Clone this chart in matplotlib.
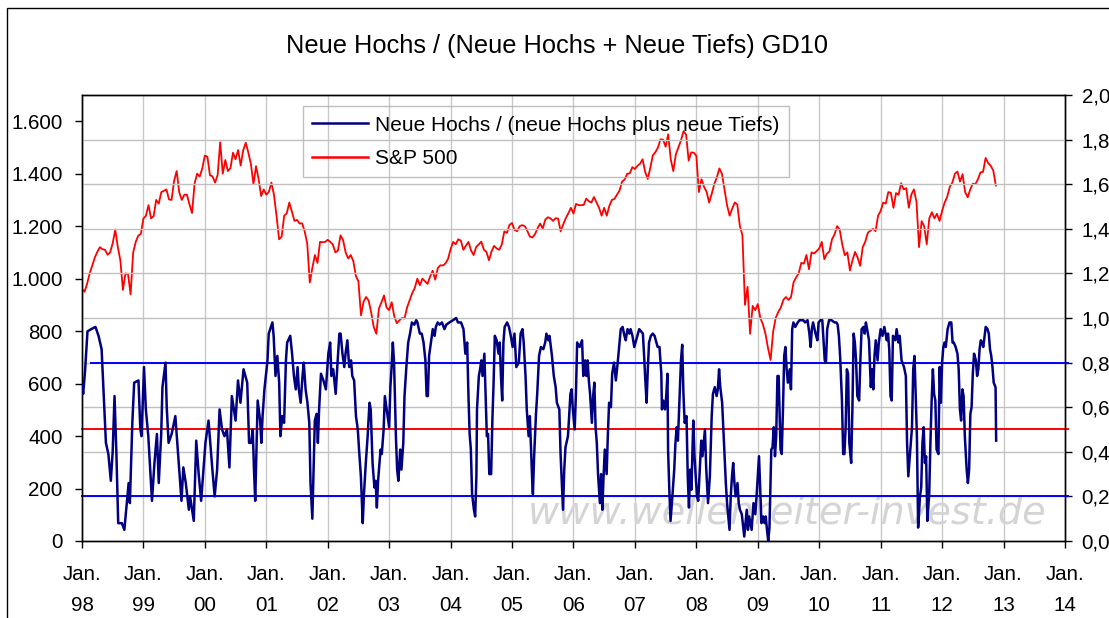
import numpy as np
import matplotlib
matplotlib.use("Agg")
import matplotlib.pyplot as plt
from matplotlib.lines import Line2D
from matplotlib.patches import Rectangle

plt.rcParams["font.family"] = ["Liberation Sans", "DejaVu Sans"]

# S&P 500: start of 1998, then mid-month / month-end values up to mid Nov 2012
sp500 = [
    960,
    950, 980, 1020, 1049, 1080, 1102, 1120, 1112, 1110, 1091, 1100, 1134,   # 1998
    1187, 1121, 1070, 957, 1020, 1017, 940, 1099, 1140, 1164, 1170, 1229,
    1240, 1280, 1230, 1238, 1300, 1286, 1330, 1335, 1340, 1302, 1300, 1373,  # 1999
    1410, 1329, 1300, 1320, 1320, 1283, 1250, 1363, 1400, 1389, 1420, 1469,
    1465, 1394, 1390, 1366, 1395, 1520, 1400, 1452, 1410, 1421, 1480, 1455,  # 2000
    1490, 1431, 1490, 1518, 1480, 1437, 1360, 1429, 1380, 1315, 1340, 1320,
    1330, 1366, 1320, 1240, 1150, 1160, 1240, 1249, 1290, 1256, 1220, 1224,  # 2001
    1210, 1211, 1180, 1134, 985, 1041, 1090, 1060, 1140, 1139, 1140, 1148,
    1140, 1130, 1100, 1107, 1165, 1147, 1100, 1077, 1090, 1067, 1010, 990,   # 2002
    860, 912, 930, 916, 870, 815, 790, 886, 910, 936, 890, 880,
    910, 856, 830, 841, 850, 848, 890, 917, 945, 964, 1000, 975,             # 2003
    1000, 990, 980, 1008, 1030, 996, 1040, 1051, 1050, 1058, 1075, 1112,
    1140, 1131, 1150, 1145, 1110, 1126, 1140, 1107, 1090, 1121, 1130, 1141,  # 2004
    1110, 1102, 1070, 1104, 1125, 1115, 1110, 1130, 1180, 1174, 1205, 1212,
    1185, 1181, 1200, 1204, 1200, 1181, 1160, 1157, 1170, 1192, 1210, 1191,  # 2005
    1225, 1234, 1230, 1220, 1230, 1229, 1180, 1207, 1230, 1249, 1270, 1248,
    1285, 1280, 1280, 1281, 1305, 1295, 1290, 1311, 1290, 1270, 1240, 1270,  # 2006
    1240, 1277, 1300, 1304, 1320, 1336, 1370, 1378, 1400, 1401, 1425, 1418,
    1430, 1438, 1455, 1407, 1380, 1421, 1470, 1482, 1500, 1531, 1530, 1503,  # 2007
    1550, 1455, 1410, 1474, 1500, 1527, 1562, 1549, 1450, 1481, 1480, 1468,
    1330, 1379, 1350, 1331, 1290, 1323, 1360, 1386, 1420, 1400, 1340, 1280,  # 2008
    1240, 1267, 1290, 1283, 1200, 1166, 900, 969, 790, 896, 880, 903,
    850, 826, 790, 735, 690, 798, 850, 873, 890, 919, 930, 919,              # 2009
    930, 987, 1005, 1021, 1060, 1057, 1090, 1036, 1100, 1096, 1105, 1115,
    1140, 1074, 1095, 1104, 1150, 1169, 1200, 1187, 1130, 1089, 1100, 1031,  # 2010
    1070, 1102, 1080, 1049, 1120, 1141, 1175, 1183, 1190, 1181, 1240, 1258,
    1290, 1286, 1330, 1327, 1270, 1326, 1320, 1364, 1340, 1345, 1270, 1321,  # 2011
    1340, 1292, 1120, 1219, 1200, 1131, 1230, 1253, 1230, 1247, 1220, 1258,
    1290, 1312, 1350, 1366, 1400, 1408, 1370, 1398, 1330, 1310, 1340, 1362,  # 2012
    1360, 1379, 1405, 1407, 1460, 1441, 1430, 1412, 1355,
]

# Neue Hochs / (Neue Hochs + Neue Tiefs), GD10 -- decimal years and values
nh_dates = [
    1998.00, 1998.02, 1998.05, 1998.09, 1998.15, 1998.22, 1998.27, 1998.32, 1998.35, 1998.39,
    1998.43, 1998.47, 1998.50, 1998.53, 1998.56, 1998.59, 1998.65, 1998.69, 1998.73, 1998.76,
    1998.78, 1998.82, 1998.85, 1998.92, 1998.95, 1998.97, 1999.01, 1999.04, 1999.08, 1999.14,
    1999.18, 1999.22, 1999.25, 1999.29, 1999.31, 1999.36, 1999.38, 1999.41, 1999.46, 1999.52,
    1999.56, 1999.62, 1999.65, 1999.69, 1999.74, 1999.76, 1999.82, 1999.86, 1999.90, 1999.94,
    2000.01, 2000.06, 2000.12, 2000.16, 2000.20, 2000.24, 2000.28, 2000.32, 2000.36, 2000.40,
    2000.44, 2000.50, 2000.54, 2000.58, 2000.63, 2000.69, 2000.72,
    2000.754, 2000.78, 2000.80, 2000.82, 2000.84, 2000.86, 2000.90, 2000.92, 2000.94, 2000.97,
    2001.02, 2001.04, 2001.10, 2001.12, 2001.15, 2001.18, 2001.21, 2001.23, 2001.26, 2001.29,
    2001.32, 2001.34, 2001.39, 2001.42, 2001.45, 2001.48, 2001.51, 2001.53, 2001.56, 2001.59,
    2001.61, 2001.64, 2001.67, 2001.70, 2001.72, 2001.75, 2001.77, 2001.79, 2001.82, 2001.84,
    2001.86, 2001.89, 2001.93, 2001.97, 2002.01, 2002.04, 2002.06, 2002.09, 2002.13, 2002.16,
    2002.19, 2002.21, 2002.24, 2002.27, 2002.29, 2002.32, 2002.35, 2002.38, 2002.40, 2002.43,
    2002.46, 2002.49, 2002.51, 2002.54, 2002.57, 2002.59, 2002.62, 2002.65, 2002.68, 2002.70,
    2002.73, 2002.76, 2002.78, 2002.80, 2002.82, 2002.86, 2002.88, 2002.91, 2002.93, 2002.96,
    2003.00, 2003.02, 2003.04, 2003.06, 2003.08, 2003.11, 2003.13, 2003.15, 2003.18, 2003.20,
    2003.23, 2003.25, 2003.28, 2003.31, 2003.34,
    2003.37, 2003.41, 2003.44, 2003.46, 2003.50, 2003.53, 2003.56, 2003.59, 2003.61, 2003.63,
    2003.65, 2003.68, 2003.71, 2003.74, 2003.76, 2003.79, 2003.82, 2003.86, 2003.90, 2003.93,
    2003.98, 2004.04, 2004.09, 2004.12, 2004.17, 2004.21, 2004.24, 2004.27, 2004.29, 2004.31,
    2004.33, 2004.35, 2004.38, 2004.40, 2004.42, 2004.43, 2004.46, 2004.48, 2004.50, 2004.52,
    2004.55, 2004.57, 2004.59, 2004.61, 2004.63, 2004.66, 2004.68, 2004.70, 2004.72, 2004.75,
    2004.78, 2004.80, 2004.82, 2004.84, 2004.86, 2004.88, 2004.92, 2004.95, 2004.98, 2005.01,
    2005.04, 2005.07, 2005.11, 2005.14, 2005.17, 2005.19, 2005.22, 2005.24, 2005.27, 2005.29,
    2005.31, 2005.33, 2005.34, 2005.36, 2005.39, 2005.41, 2005.44, 2005.47, 2005.51, 2005.54,
    2005.56, 2005.59, 2005.61, 2005.65, 2005.68, 2005.71, 2005.73, 2005.77, 2005.79, 2005.81,
    2005.83, 2005.85, 2005.87, 2005.91, 2005.93, 2005.95, 2005.97, 2005.99, 2006.02, 2006.04,
    2006.06, 2006.10,
    2006.14, 2006.16, 2006.19, 2006.21, 2006.23, 2006.25, 2006.27, 2006.30, 2006.32, 2006.34,
    2006.36, 2006.38, 2006.40, 2006.43, 2006.45, 2006.47, 2006.49, 2006.51, 2006.54, 2006.56,
    2006.58, 2006.61, 2006.63, 2006.66, 2006.69, 2006.72, 2006.74, 2006.77, 2006.80, 2006.83,
    2006.85, 2006.88, 2006.91, 2006.93, 2006.96, 2006.99, 2007.02, 2007.04, 2007.07, 2007.10,
    2007.13, 2007.15, 2007.17, 2007.19, 2007.21, 2007.23, 2007.26, 2007.29, 2007.32, 2007.34,
    2007.37, 2007.40, 2007.43, 2007.44, 2007.46, 2007.49, 2007.51, 2007.53, 2007.54, 2007.56,
    2007.58, 2007.61, 2007.64, 2007.66, 2007.68, 2007.70, 2007.73, 2007.75, 2007.77, 2007.79,
    2007.81, 2007.84, 2007.86, 2007.88, 2007.90, 2007.92, 2007.95, 2007.97, 2007.99, 2008.01,
    2008.03, 2008.05, 2008.08, 2008.10, 2008.12, 2008.14, 2008.16, 2008.19, 2008.22, 2008.25,
    2008.27, 2008.30, 2008.33, 2008.35, 2008.37, 2008.39, 2008.42, 2008.44, 2008.46, 2008.48,
    2008.50, 2008.54, 2008.56, 2008.58, 2008.60, 2008.62, 2008.64, 2008.67, 2008.69, 2008.71,
    2008.74, 2008.78,
    2008.80, 2008.82, 2008.84, 2008.86, 2008.88, 2008.90, 2008.93, 2008.96, 2008.98, 2009.00,
    2009.02, 2009.04, 2009.06, 2009.09, 2009.11, 2009.13, 2009.15, 2009.17, 2009.19, 2009.22,
    2009.24, 2009.26, 2009.28, 2009.30, 2009.32, 2009.34, 2009.37, 2009.39, 2009.41, 2009.43,
    2009.45, 2009.47, 2009.49, 2009.52, 2009.54, 2009.56, 2009.58, 2009.61, 2009.65, 2009.68,
    2009.71, 2009.74, 2009.77, 2009.81, 2009.84, 2009.86, 2009.88, 2009.90, 2009.94, 2009.97,
    2009.99, 2010.02, 2010.05, 2010.09, 2010.11, 2010.13, 2010.16, 2010.20, 2010.25, 2010.28,
    2010.30, 2010.32, 2010.34, 2010.37, 2010.39, 2010.41, 2010.43, 2010.45, 2010.47, 2010.49,
    2010.52, 2010.54, 2010.56, 2010.58, 2010.60, 2010.62, 2010.65, 2010.67, 2010.69, 2010.72,
    2010.74, 2010.76, 2010.78, 2010.81, 2010.84, 2010.86, 2010.88, 2010.90, 2010.92, 2010.95,
    2010.97, 2011.00, 2011.03, 2011.06, 2011.10, 2011.12, 2011.14, 2011.16, 2011.18, 2011.20,
    2011.24, 2011.26, 2011.29, 2011.31, 2011.34, 2011.38, 2011.41, 2011.43, 2011.45,
    2011.51, 2011.53, 2011.55, 2011.57, 2011.59, 2011.61, 2011.64, 2011.66, 2011.68, 2011.70,
    2011.72, 2011.74, 2011.76, 2011.79, 2011.81, 2011.83, 2011.85, 2011.87, 2011.89, 2011.91,
    2011.94, 2011.96, 2011.98, 2012.00, 2012.02, 2012.04, 2012.06, 2012.09, 2012.12, 2012.15,
    2012.17, 2012.19, 2012.22, 2012.25, 2012.27, 2012.29, 2012.31, 2012.33, 2012.35, 2012.37,
    2012.40, 2012.42, 2012.44, 2012.46, 2012.48, 2012.50, 2012.52, 2012.55, 2012.57, 2012.59,
    2012.61, 2012.63, 2012.65, 2012.67, 2012.71, 2012.74, 2012.76, 2012.78, 2012.80, 2012.82,
    2012.84, 2012.87, 2012.88,
]
nh_values = [
    0.70, 0.66, 0.76, 0.94, 0.95, 0.96, 0.92, 0.86, 0.68, 0.44,
    0.39, 0.27, 0.40, 0.65, 0.40, 0.08, 0.08, 0.05, 0.17, 0.26,
    0.17, 0.53, 0.71, 0.72, 0.50, 0.47, 0.78, 0.59, 0.47, 0.18,
    0.35, 0.48, 0.26, 0.48, 0.69, 0.80, 0.60, 0.44, 0.48, 0.56,
    0.41, 0.18, 0.33, 0.26, 0.14, 0.20, 0.09, 0.45, 0.30, 0.18,
    0.44, 0.54, 0.33, 0.20, 0.32, 0.59, 0.50, 0.47, 0.50, 0.33,
    0.65, 0.54, 0.72, 0.62, 0.77, 0.71, 0.44,
    0.44, 0.50, 0.32, 0.18, 0.41, 0.63, 0.54, 0.44, 0.56, 0.68,
    0.81, 0.93, 0.98, 0.92, 0.74, 0.83, 0.71, 0.47, 0.56, 0.53,
    0.81, 0.89, 0.92, 0.84, 0.74, 0.68, 0.78, 0.68, 0.62, 0.74,
    0.80, 0.68, 0.62, 0.53, 0.26, 0.10, 0.32, 0.54, 0.57, 0.44,
    0.59, 0.75, 0.72, 0.68, 0.84, 0.89, 0.74, 0.77, 0.66, 0.80,
    0.93, 0.93, 0.84, 0.78, 0.84, 0.90, 0.78, 0.81, 0.74, 0.72,
    0.56, 0.50, 0.41, 0.29, 0.08, 0.21, 0.35, 0.47, 0.62, 0.59,
    0.35, 0.24, 0.27, 0.15, 0.27, 0.41, 0.39, 0.50, 0.65, 0.59,
    0.51, 0.69, 0.78, 0.89, 0.80, 0.47, 0.32, 0.27, 0.41, 0.32,
    0.44, 0.65, 0.78, 0.89, 0.93,
    0.98, 0.97, 0.99, 0.98, 0.93, 0.93, 0.89, 0.81, 0.65, 0.65,
    0.83, 0.89, 0.95, 0.92, 0.96, 0.98, 0.97, 0.98, 0.95, 0.97,
    0.98, 0.99, 1.00, 0.98, 0.98, 0.95, 0.84, 0.89, 0.66, 0.48,
    0.41, 0.21, 0.14, 0.11, 0.29, 0.59, 0.74, 0.77, 0.81, 0.74,
    0.84, 0.66, 0.47, 0.48, 0.30, 0.30, 0.54, 0.71, 0.92, 0.90,
    0.84, 0.89, 0.74, 0.63, 0.89, 0.96, 0.98, 0.96, 0.92, 0.87,
    0.93, 0.78, 0.80, 0.93, 0.95, 0.89, 0.74, 0.59, 0.47, 0.56,
    0.41, 0.26, 0.21, 0.38, 0.57, 0.66, 0.83, 0.87, 0.86, 0.89,
    0.93, 0.90, 0.92, 0.83, 0.74, 0.69, 0.62, 0.59, 0.39, 0.26,
    0.14, 0.32, 0.42, 0.47, 0.56, 0.66, 0.68, 0.59, 0.50, 0.66,
    0.89, 0.87,
    0.90, 0.74, 0.81, 0.74, 0.81, 0.72, 0.66, 0.53, 0.65, 0.71,
    0.51, 0.44, 0.30, 0.17, 0.30, 0.14, 0.29, 0.41, 0.30, 0.48,
    0.62, 0.60, 0.75, 0.80, 0.72, 0.80, 0.86, 0.95, 0.96, 0.92,
    0.90, 0.95, 0.93, 0.95, 0.92, 0.87, 0.90, 0.92, 0.95, 0.94,
    0.93, 0.83, 0.72, 0.62, 0.77, 0.89, 0.92, 0.93, 0.92, 0.90,
    0.87, 0.87, 0.75, 0.59, 0.63, 0.59, 0.65, 0.75, 0.41, 0.23,
    0.09, 0.20, 0.32, 0.44, 0.51, 0.45, 0.66, 0.81, 0.88, 0.66,
    0.53, 0.56, 0.29, 0.15, 0.32, 0.23, 0.54, 0.38, 0.29, 0.20,
    0.18, 0.29, 0.45, 0.38, 0.44, 0.50, 0.33, 0.17, 0.29, 0.56,
    0.66, 0.69, 0.65, 0.68, 0.77, 0.69, 0.62, 0.50, 0.38, 0.26,
    0.17, 0.05, 0.20, 0.29, 0.35, 0.26, 0.20, 0.26, 0.17, 0.14,
    0.12, 0.02,
    0.08, 0.14, 0.05, 0.11, 0.08, 0.05, 0.17, 0.12, 0.20, 0.29,
    0.38, 0.23, 0.08, 0.11, 0.08, 0.11, 0.05, 0.00, 0.06, 0.41,
    0.42, 0.51, 0.38, 0.47, 0.74, 0.74, 0.41, 0.39, 0.59, 0.83,
    0.87, 0.77, 0.71, 0.77, 0.68, 0.95, 0.98, 0.96, 0.98, 0.99,
    0.99, 0.99, 0.98, 0.99, 0.93, 0.87, 0.95, 0.98, 0.93, 0.90,
    0.98, 0.99, 0.99, 0.81, 0.80, 0.95, 0.99, 0.99, 0.98, 0.98,
    0.97, 0.92, 0.83, 0.63, 0.39, 0.39, 0.51, 0.77, 0.75, 0.44,
    0.35, 0.59, 0.93, 0.89, 0.81, 0.65, 0.63, 0.81, 0.95, 0.96,
    0.93, 0.98, 0.95, 0.90, 0.69, 0.77, 0.68, 0.83, 0.90, 0.81,
    0.89, 0.95, 0.92, 0.96, 0.90, 0.93, 0.86, 0.65, 0.63, 0.92,
    0.90, 0.95, 0.89, 0.92, 0.81, 0.78, 0.74, 0.44, 0.29,
    0.51, 0.77, 0.83, 0.66, 0.47, 0.06, 0.20, 0.24, 0.44, 0.51,
    0.35, 0.38, 0.09, 0.21, 0.44, 0.63, 0.77, 0.66, 0.63, 0.41,
    0.39, 0.78, 0.62, 0.80, 0.87, 0.89, 0.87, 0.95, 0.98, 0.98,
    0.89, 0.89, 0.87, 0.84, 0.77, 0.59, 0.54, 0.68, 0.65, 0.47,
    0.32, 0.26, 0.32, 0.57, 0.60, 0.75, 0.84, 0.81, 0.74, 0.77,
    0.86, 0.90, 0.89, 0.87, 0.96, 0.95, 0.93, 0.86, 0.83, 0.78,
    0.71, 0.69, 0.45,
]

# reference levels on the right axis
level_values = [0.8, 0.5, 0.2]
level_colors = ["#0000ff", "#ff0000", "#0000ff"]
level_starts = [1998.15, 1998.0, 1998.0]

years = list(range(1998, 2015))
left_ticks = [0, 200, 400, 600, 800, 1000, 1200, 1400, 1600]
right_ticks = [0.0, 0.2, 0.4, 0.6, 0.8, 1.0, 1.2, 1.4, 1.6, 1.8, 2.0]

sp_dates = 1998 + np.arange(len(sp500)) / 24.0

fig = plt.figure(figsize=(11.09, 6.18), dpi=100)
ax = fig.add_axes([0.0739, 0.1246, 0.8864, 0.7217])
ax2 = ax.twinx()

# outer frame of the chart
fig.patches.append(Rectangle((7 / 1109, -0.2), 1.2, 1.2 - 8 / 618,
                             transform=fig.transFigure, fill=False,
                             edgecolor="black", linewidth=1.0))

for y in right_ticks[1:]:
    ax2.axhline(y, color="#c0c0c0", lw=1.0, zorder=0)
for yr in years[1:-1]:
    ax.axvline(yr, color="#c8c8c8", lw=1.0, zorder=0)

ax.plot(sp_dates, sp500, color="#ff0000", lw=1.3, zorder=3)
ax2.plot(nh_dates, nh_values, color="#000080", lw=1.8, zorder=3)
for val, col, start in zip(level_values, level_colors, level_starts):
    ax2.plot([start, 2014.05], [val, val], color=col, lw=1.4, zorder=2,
             clip_on=False)

ax.set_xlim(1998, 2014)
ax.set_ylim(0, 1700)
ax2.set_ylim(0, 2.0)

ax.set_xticks(years)
ax.set_xticklabels([f"Jan.\n{y % 100:02d}" for y in years], linespacing=1.8)
ax.set_yticks(left_ticks)
ax.set_yticklabels([f"{v:,}".replace(",", ".") for v in left_ticks])
ax2.set_yticks(right_ticks)
ax2.set_yticklabels([f"{v:.1f}".replace(".", ",") for v in right_ticks])

for a in (ax, ax2):
    a.tick_params(direction="out", length=5, width=1, labelsize=14.8,
                  colors="black")
    for s in a.spines.values():
        s.set_linewidth(1.0)
ax.tick_params(axis="x", pad=12)
ax.tick_params(axis="y", pad=9)
ax2.tick_params(axis="y", pad=7)

fig.text(0.502, 0.925, "Neue Hochs / (Neue Hochs + Neue Tiefs) GD10",
         ha="center", va="center", fontsize=18.3)

ax.text(0.717, 0.062, "www.wellenreiter-invest.de", transform=ax.transAxes,
        ha="center", va="center", fontsize=27.5, style="italic",
        color="#d4d4d4", family="DejaVu Sans", zorder=1)

handles = [Line2D([], [], color="#000080", lw=1.8),
           Line2D([], [], color="#ff0000", lw=1.8)]
leg = ax2.legend(handles, ["Neue Hochs / (neue Hochs plus neue Tiefs)", "S&P 500"],
                 loc="upper left", bbox_to_anchor=(0.2248, 0.975),
                 borderaxespad=0, fontsize=15, frameon=True, fancybox=False,
                 handlelength=2.65, handletextpad=0.35, labelspacing=0.7,
                 borderpad=0.45)
leg.get_frame().set_edgecolor("#b0b0b0")
leg.get_frame().set_facecolor("none")
leg.get_frame().set_linewidth(1.0)

fig.savefig("out.png", dpi=100)
